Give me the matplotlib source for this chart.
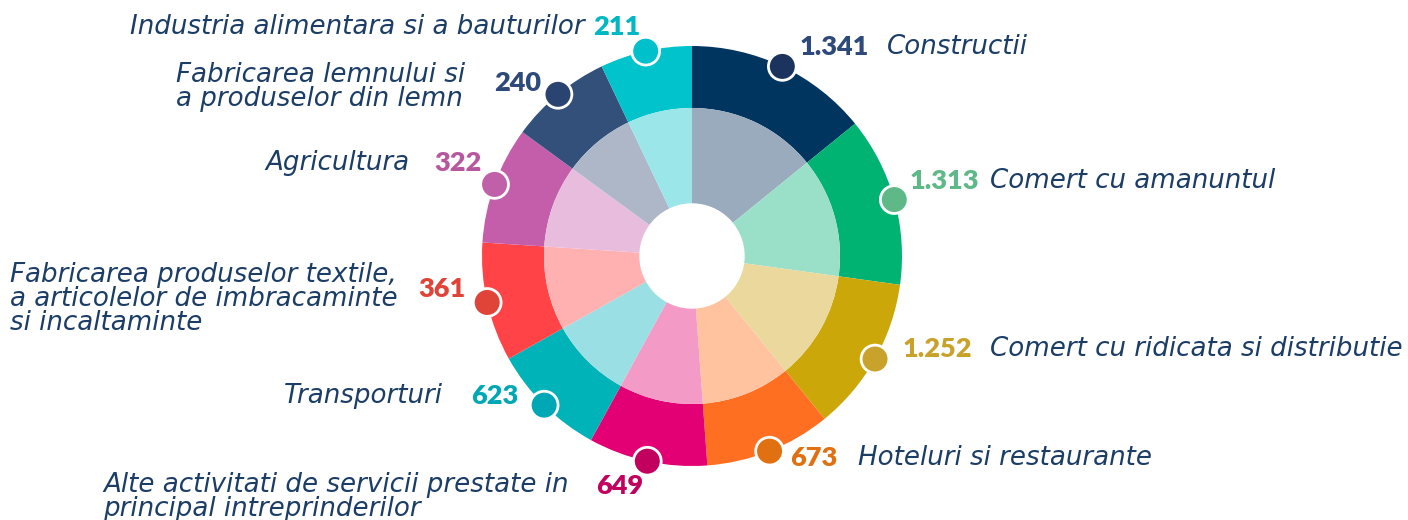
import numpy as np
import matplotlib.pyplot as plt

# sectors clockwise from the top
labels = ["Constructii", "Comert cu amanuntul", "Comert cu ridicata si distributie",
          "Hoteluri si restaurante",
          "Alte activitati de servicii prestate in\nprincipal intreprinderilor",
          "Transporturi",
          "Fabricarea produselor textile,\na articolelor de imbracaminte\nsi incaltaminte",
          "Agricultura", "Fabricarea lemnului si\na produselor din lemn",
          "Industria alimentara si a bauturilor"]
values = [1341, 1313, 1252, 673, 649, 623, 361, 322, 240, 211]
value_text = ["1.341", "1.313", "1.252", "673", "649", "623", "361", "322", "240", "211"]
# angular span of each sector (degrees), as drawn in the original
spans = [51, 47, 43, 35, 33, 32, 33, 32.5, 28.4, 25.5]

outer_col = ["#003560", "#00b373", "#cba70a", "#ff6f22", "#e20074",
             "#00b3b8", "#ff4346", "#c45eab", "#32507a", "#00c3cb"]
inner_col = ["#9aabbd", "#9ae0c8", "#ead89c", "#ffc3a0", "#f39ac6",
             "#99dfe3", "#ffb0b1", "#e8bcdd", "#adb7c8", "#9ae6e9"]
dot_col = ["#1c335e", "#5fb887", "#c8a22a", "#e07010", "#c2005e",
           "#00a8b5", "#e04438", "#c060a8", "#2a4370", "#00c1cb"]
val_col = ["#2e4a7a", "#5fb887", "#c8a22a", "#e07010", "#c2005e",
           "#00a8b5", "#e04438", "#b7589e", "#2e4a7a", "#00b8c4"]
text_col = "#1b3d66"

W, H = 1408, 520
cx, cy = 692, H - 256
R = 210

fig = plt.figure(figsize=(14.08, 5.2), dpi=100)
ax = fig.add_axes([0, 0, 1, 1])

ax.pie(spans, radius=R, center=(cx, cy), startangle=90, counterclock=False,
       colors=outer_col, wedgeprops=dict(width=62, linewidth=0))
ax.pie(spans, radius=148, center=(cx, cy), startangle=90, counterclock=False,
       colors=inner_col, wedgeprops=dict(width=96, linewidth=0))
ax.add_patch(plt.Circle((cx, cy), 52, color="white", zorder=3))

# dots on the rim, mid-sector
sp = np.array(spans) / np.sum(spans) * 360
mid = 90 - (np.cumsum(sp) - sp / 2)
dx = cx + R * np.cos(np.radians(mid))
dy = cy + R * np.sin(np.radians(mid))
ax.scatter(dx, dy, s=400, c=dot_col, edgecolors="white", linewidths=2, zorder=5)

# label placement (pixel coords from the top): value x, value y, label x, label y, label ha
place = [
    (800, 47, 887, 47, "left"),
    (910, 181, 990, 181, "left"),
    (903, 349, 990, 349, "left"),
    (790, 458, 858, 458, "left"),
    (643, 486, 103, 497, "left"),
    (518, 396, 443, 396, "right"),
    (466, 289, 10, 299, "left"),
    (482, 163, 410, 163, "right"),
    (541, 83, 176, 87, "left"),
    (640, 27, 585, 27, "right"),
]

lab_font = dict(family="DejaVu Sans", style="oblique", fontsize=18.8, color=text_col)
val_font = dict(family="Lato", fontweight="heavy", fontsize=19.5)

for i, (vx, vy, lx, ly, lha) in enumerate(place):
    right_side = lx > vx
    ax.text(vx, H - vy, value_text[i], ha="left" if right_side else "right",
            va="center", color=val_col[i], **val_font)
    ax.text(lx, H - ly, labels[i], ha=lha, va="center", linespacing=0.9,
            **lab_font)

ax.set_xlim(0, W)
ax.set_ylim(0, H)
ax.set_aspect("auto")
ax.axis("off")

fig.savefig("out.png", dpi=100)
